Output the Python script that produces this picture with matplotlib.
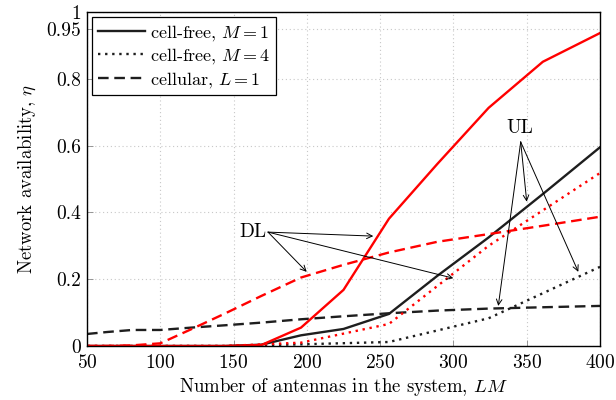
import matplotlib
matplotlib.use("Agg")
import matplotlib.pyplot as plt

# ---------------- data ----------------
x_cf1 = [49, 64, 81, 100, 121, 144, 169, 196, 225, 256, 289, 324, 361, 400]
ul_cf1 = [0, 0, 0, 0, 0, 0, 0.004, 0.032, 0.051, 0.096, 0.21, 0.325, 0.455, 0.595]
dl_cf1 = [0, 0, 0, 0, 0, 0, 0.003, 0.055, 0.168, 0.381, 0.545, 0.713, 0.851, 0.937]

x_cf4 = [36, 64, 100, 144, 196, 256, 324, 400]
ul_cf4 = [0, 0, 0, 0, 0.005, 0.012, 0.083, 0.237]
dl_cf4 = [0, 0, 0, 0, 0.01, 0.066, 0.30, 0.518]

x_cell = [50, 64, 81, 100, 121, 144, 169, 196, 225, 256, 289, 324, 361, 400]
ul_cell = [0.036, 0.042, 0.048, 0.048, 0.055, 0.062, 0.070, 0.080, 0.089, 0.098, 0.106, 0.112, 0.116, 0.120]
dl_cell = [0, 0, 0.002, 0.008, 0.05, 0.097, 0.15, 0.205, 0.243, 0.28, 0.312, 0.335, 0.36, 0.387]

xticks = [50, 100, 150, 200, 250, 300, 350, 400]
yticks = [0, 0.2, 0.4, 0.6, 0.8, 0.95, 1]
yticklabels = ["0", "0.2", "0.4", "0.6", "0.8", "0.95", "1"]

legend_labels = ["cell-free, $M=1$", "cell-free, $M=4$", "cellular, $L=1$"]

# ---------------- style ----------------
plt.rcParams["font.family"] = "serif"
plt.rcParams["font.serif"] = ["cmr10", "DejaVu Serif"]
plt.rcParams["mathtext.fontset"] = "cm"
plt.rcParams["axes.formatter.use_mathtext"] = True

BLACK = "#1e1e1e"
RED = "#ff0000"
LW = 1.7
DASH = (0, (4.5, 2.4))
DOT = (0, (1.0, 2.0))

fig = plt.figure(figsize=(6.16, 4.0), dpi=100)
ax = fig.add_axes([87 / 616, 54 / 400, (600 - 87) / 616, (346 - 12) / 400])

# grid
ax.set_xticks(xticks)
ax.set_yticks(yticks)
ax.set_yticklabels(yticklabels)
ax.grid(True, color="#c8c8c8", linestyle=(0, (1, 2.5)), linewidth=0.8)
ax.set_axisbelow(True)

# lines
l1, = ax.plot(x_cf1, ul_cf1, color=BLACK, lw=LW, linestyle="-", label=legend_labels[0])
l2, = ax.plot(x_cf4, ul_cf4, color=BLACK, lw=LW, linestyle=DOT, label=legend_labels[1])
l3, = ax.plot(x_cell, ul_cell, color=BLACK, lw=LW, linestyle=DASH, label=legend_labels[2])
ax.plot(x_cell, dl_cell, color=RED, lw=LW, linestyle=DASH)
ax.plot(x_cf4, dl_cf4, color=RED, lw=LW, linestyle=DOT)
ax.plot(x_cf1, dl_cf1, color=RED, lw=LW, linestyle="-")

ax.set_xlim(50, 400)
ax.set_ylim(0, 1)

ax.tick_params(direction="in", length=4, width=0.6, color="#888888",
               labelsize=14, top=False, right=False)
ax.tick_params(axis="x", pad=6)
ax.tick_params(axis="y", pad=4)
for s in ax.spines.values():
    s.set_linewidth(1.0)
    s.set_color("black")

ax.set_xlabel("Number of antennas in the system, $LM$", fontsize=13.5, labelpad=3)
ax.set_ylabel("Network availability, $\\eta$", fontsize=13.5, labelpad=6)

leg = ax.legend(handles=[l1, l2, l3], loc="upper left", fontsize=13,
                fancybox=False, framealpha=1, edgecolor="black",
                handlelength=2.6, handletextpad=0.3, borderpad=0.3,
                labelspacing=0.2, borderaxespad=0.3)
leg.get_frame().set_linewidth(0.9)

# annotations
arrow = dict(arrowstyle="->", lw=0.7, color="black", shrinkA=0, shrinkB=0)
dl_src = (173.5, 0.341)
ax.text(172.5, 0.341, "DL", fontsize=14, ha="right", va="center")
for tgt in [(245.3, 0.329), (199.9, 0.222), (299.9, 0.203)]:
    ax.annotate("", xy=tgt, xytext=dl_src, arrowprops=arrow)

ul_src = (345.9, 0.611)
ax.text(345.5, 0.625, "UL", fontsize=14, ha="center", va="bottom")
for tgt in [(350.0, 0.432), (385.2, 0.222), (330.6, 0.12)]:
    ax.annotate("", xy=tgt, xytext=ul_src, arrowprops=arrow)

fig.savefig("out.png", dpi=100)
